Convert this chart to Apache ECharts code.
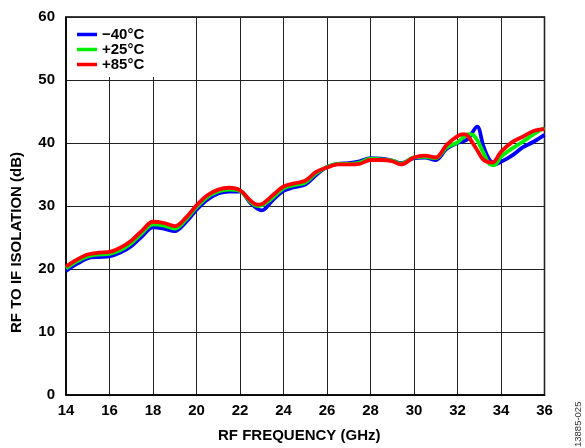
<!DOCTYPE html>
<html>
<head>
<meta charset="utf-8">
<script src="https://cdn.jsdelivr.net/npm/echarts@6/dist/echarts.min.js"></script>
<style>
html,body{margin:0;padding:0;background:#fff;}
#chart{width:585px;height:448px;}
</style>
</head>
<body>
<div id="chart"></div>
<script>
var seriesNames = ['\u221240\u00B0C', '+25\u00B0C', '+85\u00B0C'];
var seriesColors = ['#0000ff', '#00ee00', '#ff0000'];

var freqBlue = [14,14.5,15,15.5,16,16.5,17,17.5,18,18.5,19,19.5,20,20.5,21,21.5,22,22.5,23,23.5,24,24.5,25,25.5,26,26.5,27,27.5,28,28.5,29,29.4,30,30.5,31,31.5,32,32.3,32.5,32.9,33.2,33.5,33.8,34,34.5,35,35.5,36];
var valBlue  = [19.7,20.8,21.7,21.9,22.0,22.6,23.6,25.2,26.6,26.4,26.0,27.4,29.4,31.0,32.0,32.3,32.3,30.4,29.3,30.9,32.4,33.0,33.4,34.9,36.2,36.7,36.8,37.1,37.6,37.5,37.2,36.8,37.6,37.7,37.3,39.1,40.0,40.3,40.7,42.6,39.4,37.2,36.7,37.0,38.0,39.3,40.2,41.3];

var freqGreen = [14,14.5,15,15.5,16,16.5,17,17.5,18,18.5,19,19.5,20,20.5,21,21.5,22,22.5,22.8,23,23.5,24,24.5,25,25.5,26,26.5,27,27.5,28,28.5,29,29.4,30,30.5,31,31.5,32,32.3,32.5,32.7,32.9,33.2,33.5,33.7,34,34.5,35,35.5,36];
var valGreen  = [20.1,21.2,22.0,22.3,22.4,23.0,24.1,25.7,27.1,26.9,26.4,27.8,29.8,31.4,32.3,32.6,32.4,30.6,30.0,30.1,31.3,32.8,33.3,33.7,35.2,36.2,36.7,36.7,36.9,37.5,37.4,37.2,36.7,37.7,37.8,37.6,39.3,40.1,41.0,41.4,41.3,40.5,38.4,36.6,36.5,37.8,39.1,40.2,41.4,42.4];

var freqRed = [14,14.5,15,15.5,16,16.5,17,17.5,18,18.5,19,19.5,20,20.5,21,21.5,22,22.5,22.8,23,23.5,24,24.5,25,25.5,26,26.5,27,27.5,28,28.5,29,29.4,30,30.5,31,31.5,32,32.3,32.5,32.9,33.2,33.6,34,34.5,35,35.5,36];
var valRed  = [20.4,21.5,22.3,22.6,22.7,23.4,24.5,26.1,27.5,27.3,26.8,28.1,30.1,31.7,32.6,32.9,32.5,30.8,30.2,30.3,31.7,33.1,33.6,34.0,35.4,36.1,36.6,36.6,36.7,37.3,37.3,37.1,36.6,37.7,38.0,37.7,39.7,41.1,41.4,41.0,38.9,37.3,36.9,38.6,40.1,41.0,41.9,42.2];

var xTicks = [14,16,18,20,22,24,26,28,30,32,34,36];
var yTicks = [0,10,20,30,40,50,60];

function pairs(xs, ys){ return xs.map(function(x,i){ return [x, ys[i]]; }); }

var chart = echarts.init(document.getElementById('chart'), null, {renderer:'canvas'});
var font = 'Arial, "Liberation Sans", Helvetica, sans-serif';
var allData = [pairs(freqBlue,valBlue), pairs(freqGreen,valGreen), pairs(freqRed,valRed)];

chart.setOption({
  animation: false,
  backgroundColor: '#fff',
  grid: {left: 66, right: 40.5, top: 17, bottom: 48, show: true, borderColor: '#000', borderWidth: 1.5, backgroundColor: 'transparent'},
  legend: {
    data: seriesNames,
    orient: 'vertical',
    left: 67, top: 18,
    itemWidth: 20, itemHeight: 3.5, itemGap: 0,
    icon: 'rect',
    backgroundColor: '#fff',
    padding: [9, 11, 5, 10],
    textStyle: {fontFamily: font, fontWeight: 'bold', fontSize: 15, lineHeight: 15, color: '#000'}
  },
  xAxis: {
    type: 'value', min: xTicks[0], max: xTicks[xTicks.length-1], interval: 2,
    name: 'RF FREQUENCY (GHz)', nameLocation: 'middle', nameGap: 33,
    nameTextStyle: {fontFamily: font, fontWeight: 'bold', fontSize: 15, color: '#000', padding:[0,12,0,0]},
    axisLine: {show: true, lineStyle: {color: '#000', width: 1.5}},
    axisTick: {show: false},
    axisLabel: {fontFamily: font, fontWeight: 'bold', fontSize: 15, color: '#000', margin: 8, showMinLabel: true, showMaxLabel: true},
    splitLine: {show: true, lineStyle: {color: '#222', width: 1}}
  },
  yAxis: {
    type: 'value', min: yTicks[0], max: yTicks[yTicks.length-1], interval: 10,
    axisLine: {show: true, lineStyle: {color: '#000', width: 1.5}},
    axisTick: {show: false},
    axisLabel: {fontFamily: font, fontWeight: 'bold', fontSize: 15, color: '#000', margin: 11},
    splitLine: {show: true, lineStyle: {color: '#222', width: 1}}
  },
  graphic: [
    {type: 'text', rotation: Math.PI/2, x: 9, y: 333, style: {text: 'RF TO IF ISOLATION (dB)', font: 'bold 15px ' + font, fill: '#000'}},
    {type: 'text', rotation: Math.PI/2, x: 573, y: 447, style: {text: '13885-025', font: '9.5px ' + font, fill: '#333'}}
  ],
  series: seriesNames.map(function(n, i){
    return {
      name: n, type: 'line', data: allData[i], smooth: 0.35, symbol: 'none',
      lineStyle: {color: seriesColors[i], width: 3.8}, itemStyle: {color: seriesColors[i]}, z: 2 + i
    };
  })
});
</script>
</body>
</html>
